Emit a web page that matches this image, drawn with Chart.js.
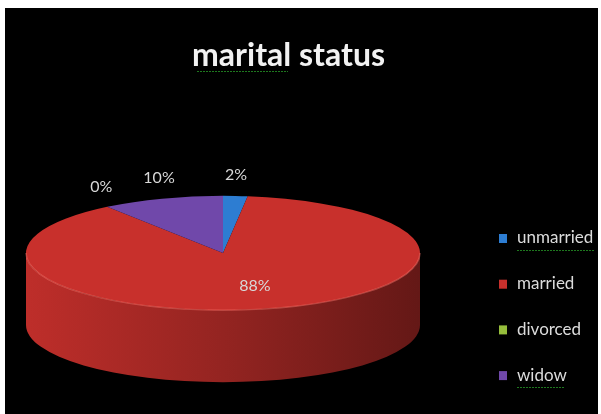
<!DOCTYPE html>
<html>
<head>
<meta charset="utf-8">
<script src="https://cdn.jsdelivr.net/npm/chart.js@4/dist/chart.umd.min.js"></script>
<style>
    body { margin: 0; background: #fff; }
    #box { position: absolute; left: 5px; top: 8px; width: 593px; height: 406px; background: #000; }
</style>
</head>
<body>
<div id="box"><canvas id="myChart"></canvas></div>
<script>
var labels = ['unmarried', 'married', 'divorced', 'widow'];
var values = [2, 88, 0, 10];
var percentLabels = ['2%', '88%', '0%', '10%'];
var colors = ['rgb(45,125,210)', 'rgb(200,48,44)', 'rgb(150,190,60)', 'rgb(112,72,170)'];

var tilt = 0.29;   // squash of the top face
var depth = 72;    // thickness of the disc

function shade(rgb, f) {
    var p = rgb.match(/\d+/g).map(Number);
    return 'rgb(' + p.map(function (v) { return Math.round(v * f) }).join(',') + ')';
}

var pie3d = {
    id: 'pie3d',
    beforeDatasetsDraw: function (chart) {
        var ctx = chart.ctx;
        var arcs = chart.getDatasetMeta(0).data;
        var cx = arcs[0].x, cy = arcs[0].y, r = arcs[0].outerRadius;

        // front wall of the disc, only the part facing us (0..PI)
        arcs.forEach(function (arc, i) {
            [-2 * Math.PI, 0, 2 * Math.PI].forEach(function (k) {
                var a1 = Math.max(arc.startAngle + k, 0);
                var a2 = Math.min(arc.endAngle + k, Math.PI);
                if (a2 <= a1) return;
                var g = ctx.createLinearGradient(cx - r, 0, cx + r, 0);
                g.addColorStop(0, shade(colors[i], 0.95));
                g.addColorStop(0.5, shade(colors[i], 0.74));
                g.addColorStop(1, shade(colors[i], 0.5));
                ctx.save();
                ctx.beginPath();
                ctx.ellipse(cx, cy, r, r * tilt, 0, a1, a2);
                ctx.lineTo(cx + r * Math.cos(a2), cy + r * tilt * Math.sin(a2) + depth);
                ctx.ellipse(cx, cy + depth, r, r * tilt, 0, a2, a1, true);
                ctx.closePath();
                ctx.fillStyle = g;
                ctx.fill();
                ctx.restore();
            });
        });

        ctx.save();
        ctx.translate(cx, cy);
        ctx.scale(1, tilt);
        ctx.translate(-cx, -cy);
    },
    afterDatasetsDraw: function (chart) {
        var ctx = chart.ctx;
        ctx.restore();
        var arcs = chart.getDatasetMeta(0).data;
        var cx = arcs[0].x, cy = arcs[0].y, r = arcs[0].outerRadius;

        // light rim where top meets the wall
        ctx.save();
        ctx.beginPath();
        ctx.ellipse(cx, cy, r, r * tilt, 0, 0, Math.PI);
        ctx.strokeStyle = 'rgba(255,120,110,0.45)';
        ctx.lineWidth = 1.5;
        ctx.stroke();

        // percentage labels
        ctx.font = '16px Lato';
        ctx.fillStyle = '#d8d8d8';
        ctx.textAlign = 'center';
        ctx.textBaseline = 'middle';
        arcs.forEach(function (arc, i) {
            var mid = (arc.startAngle + arc.endAngle) / 2;
            var x, y;
            if (values[i] > 50) {
                x = cx + r * 0.65 * Math.cos(mid);
                y = cy + r * 0.6 * tilt * Math.sin(mid);
            } else {
                x = cx + (r + 10) * Math.cos(mid);
                y = cy + (r + 10) * tilt * Math.sin(mid) - 18;
            }
            ctx.fillText(percentLabels[i], x, y);
        });
        ctx.restore();
    },
    afterDraw: function (chart) {
        var ctx = chart.ctx;
        ctx.save();
        ctx.font = '17px Lato';
        ctx.textBaseline = 'middle';
        labels.forEach(function (name, i) {
            var y = 230 + i * 45.7;
            ctx.fillStyle = colors[i];
            ctx.fillRect(494, y - 4, 8, 9);
            ctx.fillStyle = '#dcdcdc';
            ctx.fillText(name, 512, y);
        });
        // green squiggles under a few words
        ctx.strokeStyle = 'rgb(30,120,30)';
        ctx.lineWidth = 1;
        ctx.setLineDash([2, 1]);
        [[512, 590, 242], [512, 560, 379], [192, 283, 63]].forEach(function (s) {
            ctx.beginPath();
            ctx.moveTo(s[0], s[2] + 0.5);
            ctx.lineTo(s[1], s[2] + 0.5);
            ctx.stroke();
        });
        ctx.restore();
    }
};

var ctx = document.getElementById('myChart').getContext('2d');

var chart = new Chart(ctx, {
    type: 'pie',
    data: {
        labels: labels,
        datasets: [{
            data: values,
            backgroundColor: colors,
            borderWidth: 0,
            clip: false
        }]
    },
    options: {
        responsive: true,
        maintainAspectRatio: false,
        animation: false,
        radius: 197,
        layout: { padding: { left: 56, right: 213, top: 0, bottom: 0 } },
        plugins: {
            legend: { display: false },
            tooltip: { enabled: false },
            title: {
                display: true,
                text: 'marital status',
                align: 'end',
                color: '#f2f2f2',
                font: { family: 'Lato', size: 32, weight: 'bold' },
                padding: { top: 28, bottom: 17.6 }
            }
        }
    },
    plugins: [pie3d]
});
</script>
</body>
</html>
